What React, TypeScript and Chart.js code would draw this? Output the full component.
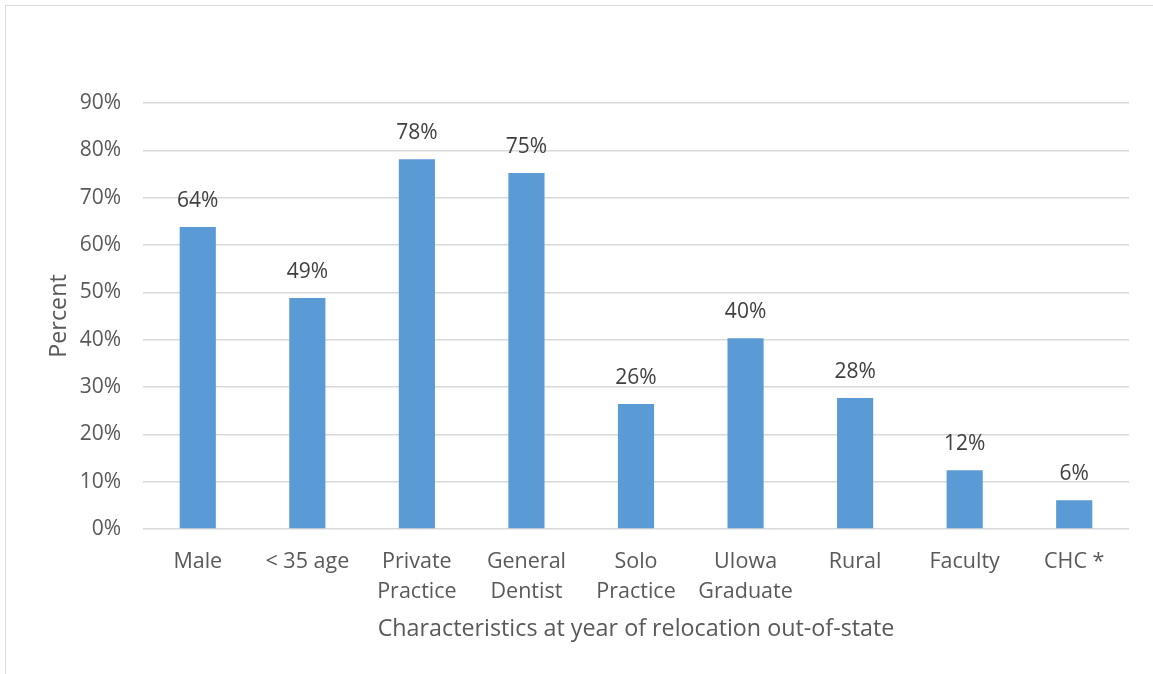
import React, { useEffect, useRef } from "react";
import { Chart, registerables } from "chart.js";

Chart.register(...registerables);

const categories: (string | string[])[] = [
  "Male",
  "< 35 age",
  ["Private", "Practice"],
  ["General", "Dentist"],
  ["Solo", "Practice"],
  ["UIowa", "Graduate"],
  "Rural",
  "Faculty",
  "CHC *",
];
const percentValues: number[] = [63.8, 48.8, 78.1, 75.2, 26.4, 40.3, 27.7, 12.4, 6.1];
const yTickMax = 90;
const yTickStep = 10;
const yAxisTitle = "Percent";
const xAxisTitle = "Characteristics at year of relocation out-of-state";

const FONT = "'Open Sans', 'Noto Sans', sans-serif";
const BAR_COLOR = "#5B9BD5";
const TEXT_COLOR = "#595959";
const GRID_COLOR = "#D9D9D9";

const dataLabelPlugin = {
  id: "dataLabels",
  afterDatasetsDraw(chart: any) {
    const ctx = chart.ctx;
    const meta = chart.getDatasetMeta(0);
    const data = chart.data.datasets[0].data as number[];
    ctx.save();
    ctx.font = `21px ${FONT}`;
    ctx.fillStyle = "#404040";
    ctx.textAlign = "center";
    ctx.textBaseline = "middle";
    meta.data.forEach((bar: any, i: number) => {
      ctx.fillText(Math.round(data[i]) + "%", bar.x, bar.y - 26);
    });
    ctx.restore();
  },
};

export default function App() {
  const canvasRef = useRef<HTMLCanvasElement | null>(null);

  useEffect(() => {
    if (!canvasRef.current) return;
    const chart = new Chart(canvasRef.current, {
      type: "bar",
      data: {
        labels: categories,
        datasets: [
          {
            data: percentValues,
            backgroundColor: BAR_COLOR,
            borderWidth: 0,
            barPercentage: 0.33,
            categoryPercentage: 1,
          },
        ],
      },
      options: {
        animation: false,
        responsive: false,
        maintainAspectRatio: false,
        layout: { padding: { left: 0, right: 24, top: 103, bottom: 0 } },
        plugins: {
          legend: { display: false },
          tooltip: { enabled: false },
          title: { display: false },
        },
        scales: {
          x: {
            grid: { display: false },
            border: { display: false },
            ticks: {
              color: TEXT_COLOR,
              font: { family: FONT, size: 21.5, lineHeight: 1.4 },
              padding: 10,
              maxRotation: 0,
              autoSkip: false,
            },
            title: {
              display: true,
              text: xAxisTitle,
              color: TEXT_COLOR,
              font: { family: FONT, size: 23.3, lineHeight: 1.2 },
              padding: { top: 31, bottom: 31 },
            },
            afterFit(scale: any) {
              scale.height = 145;
            },
          },
          y: {
            min: 0,
            max: yTickMax,
            grid: { color: GRID_COLOR, lineWidth: 1.5, drawTicks: false },
            border: { display: false },
            ticks: {
              stepSize: yTickStep,
              color: TEXT_COLOR,
              font: { family: FONT, size: 21 },
              padding: 22,
              callback: (v: any) => v + "%",
            },
            title: {
              display: true,
              text: yAxisTitle,
              color: TEXT_COLOR,
              font: { family: FONT, size: 23.3, lineHeight: 1.2 },
              padding: { top: 45, bottom: 45 },
            },
            afterFit(scale: any) {
              scale.width = 143;
            },
          },
        },
      },
      plugins: [dataLabelPlugin],
    });
    return () => chart.destroy();
  }, []);

  return (
    <div style={{ position: "absolute", left: 0, top: 0, width: 1153, height: 674, background: "#fff" }}>
      <div
        style={{
          position: "absolute",
          left: 5,
          top: 5,
          width: 1148,
          height: 669,
          borderLeft: "1.5px solid #D9D9D9",
          borderTop: "1.5px solid #D9D9D9",
          boxSizing: "border-box",
        }}
      />
      <canvas ref={canvasRef} width={1153} height={674} style={{ position: "absolute", left: 0, top: 0 }} />
    </div>
  );
}
